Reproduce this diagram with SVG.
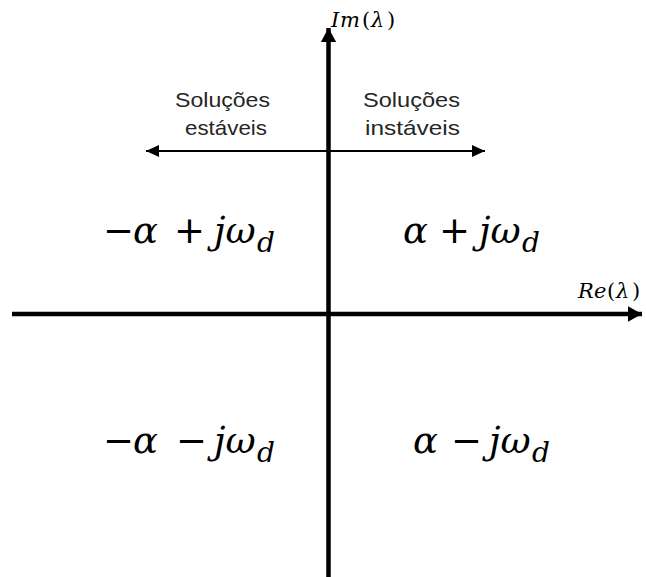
<svg xmlns="http://www.w3.org/2000/svg" width="646" height="577" viewBox="0 0 646 577">
<style>
.axis{stroke:#000;stroke-width:4.5;fill:none}
.thin{stroke:#000;stroke-width:2;fill:none}
.lbl{font-family:"Liberation Sans","Open Sans",sans-serif;font-size:21px;fill:#262626}
.m{font-family:"DejaVu Serif","Liberation Serif",serif;font-size:37px;fill:#000}
.i{font-style:italic}
.op{font-family:"DejaVu Sans","Liberation Sans",sans-serif}
.sub{font-size:28px;font-style:italic}
.ax{font-family:"DejaVu Serif","Liberation Serif",serif;font-size:21px;fill:#000}
</style>
<defs>
<marker id="big" markerWidth="4" markerHeight="4" refX="3.2" refY="2" orient="auto" markerUnits="strokeWidth"><path d="M0,0.25 L3.2,2 L0,3.75 Z" fill="#000"/></marker>
<marker id="sm" markerWidth="7" markerHeight="7" refX="6.5" refY="3.5" orient="auto-start-reverse" markerUnits="strokeWidth"><path d="M0,0.5 L6.5,3.5 L0,6.5 Z" fill="#000"/></marker>
</defs>
<g id="connectors">
<line class="axis" x1="12" y1="314" x2="642" y2="314" marker-end="url(#big)"/>
<line class="axis" x1="328.5" y1="577" x2="328.5" y2="28" marker-end="url(#big)"/>
<line class="thin" x1="146" y1="151" x2="485" y2="151" marker-start="url(#sm)" marker-end="url(#sm)"/>
</g>
<g id="im-label" class="ax">
<text class="i" x="331" y="27">I</text><text class="i" x="340" y="27">m</text><text x="362" y="27">(</text><text class="i" x="371" y="27">λ</text><text x="387" y="27">)</text>
</g>
<g id="re-label" class="ax">
<text class="i" x="578" y="298">R</text><text class="i" x="594" y="298">e</text><text x="607" y="298">(</text><text class="i" x="616" y="298">λ</text><text x="632" y="298">)</text>
</g>
<g id="stable" class="lbl">
<text x="175" y="107" textLength="95" lengthAdjust="spacingAndGlyphs">Soluções</text>
<text x="185" y="135" textLength="82" lengthAdjust="spacingAndGlyphs">estáveis</text>
</g>
<g id="unstable" class="lbl">
<text x="363" y="107" textLength="97" lengthAdjust="spacingAndGlyphs">Soluções</text>
<text x="365" y="135" textLength="95" lengthAdjust="spacingAndGlyphs">instáveis</text>
</g>
<g id="q2" class="m">
<text class="op" x="103" y="243">−</text><text class="i" x="133" y="243">α</text><text class="op" x="174" y="243">+</text><text class="i" x="214" y="243">jω</text><text class="sub" x="257" y="252">d</text>
</g>
<g id="q1" class="m">
<text class="i" x="403" y="243">α</text><text class="op" x="439" y="243">+</text><text class="i" x="479" y="243">jω</text><text class="sub" x="522" y="252">d</text>
</g>
<g id="q3" class="m">
<text class="op" x="103" y="453">−</text><text class="i" x="133" y="453">α</text><text class="op" x="176" y="453">−</text><text class="i" x="214" y="453">jω</text><text class="sub" x="257" y="462">d</text>
</g>
<g id="q4" class="m">
<text class="i" x="413" y="453">α</text><text class="op" x="451" y="453">−</text><text class="i" x="489" y="453">jω</text><text class="sub" x="532" y="462">d</text>
</g>
</svg>
